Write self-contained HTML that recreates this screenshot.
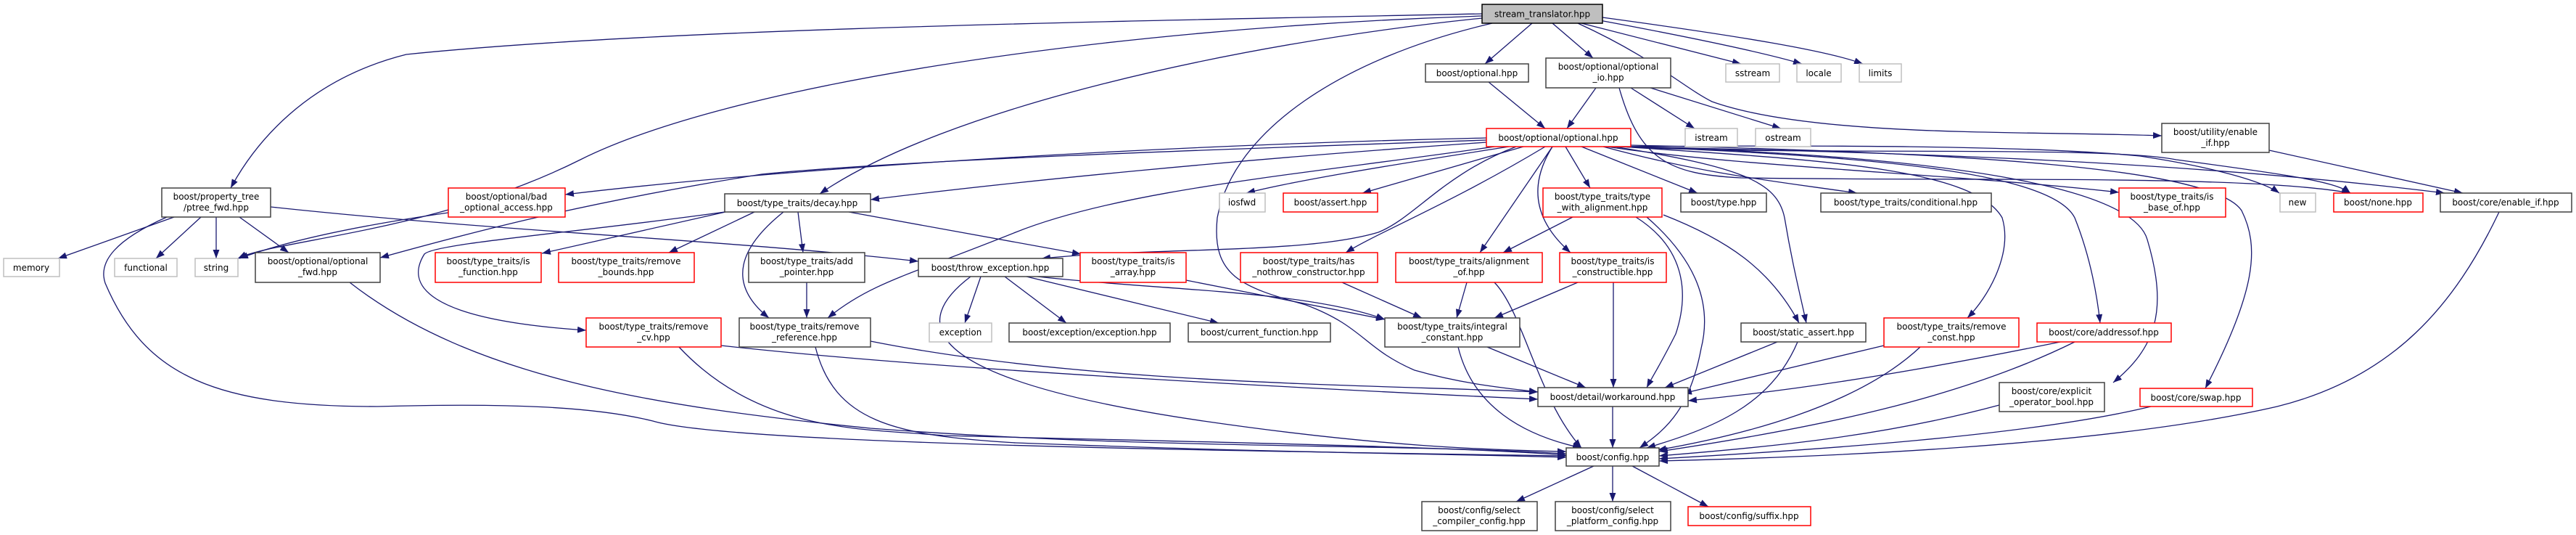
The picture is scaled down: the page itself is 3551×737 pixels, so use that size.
<!DOCTYPE html>
<html><head><meta charset="utf-8"><style>
html,body{margin:0;padding:0;background:#fff;}
svg{display:block;}
text{font-family:"DejaVu Sans","Liberation Sans",sans-serif;font-size:12px;fill:#000;text-anchor:middle;}
.e{fill:none;stroke:#191970;stroke-width:1.3;marker-end:url(#a);}
.b{fill:#fff;stroke:#404040;stroke-width:1.5;}
.r{fill:#fff;stroke:#ff0000;stroke-width:1.5;}
.g{fill:#fff;stroke:#bfbfbf;stroke-width:1.5;}
</style></head><body>
<svg width="3551" height="737" viewBox="0 0 3551 737" xmlns="http://www.w3.org/2000/svg">
<defs><marker id="a" markerUnits="userSpaceOnUse" markerWidth="12" markerHeight="9" refX="12" refY="4.5" orient="auto"><path d="M0,0 L12,4.5 L0,9 z" fill="#191970"/></marker></defs>
<g>
<path class="e" d="M2043,19 C1500,30 900,40 560,75 C420,110 350,200 318,259"/>
<path class="e" d="M2043,22 C1500,40 1000,120 800,220 C600,320 380,330 328,356"/>
<path class="e" d="M2043,25 C1700,60 1300,150 1130,267"/>
<path class="e" d="M2112,32 L2047,88"/>
<path class="e" d="M2140,32 L2196,80"/>
<path class="e" d="M2180,32 L2400,88"/>
<path class="e" d="M2205,28 C2350,55 2440,75 2484,88"/>
<path class="e" d="M2209,24 C2400,50 2520,70 2568,88"/>
<path class="e" d="M2175,32 C2280,80 2320,120 2360,140 C2500,190 2800,180 2980,187"/>
<path class="e" d="M2057,32 C1850,80 1700,180 1678,300 C1670,380 1710,395 1800,420 C1880,450 1880,480 1950,510 C2020,530 2080,535 2120,540"/>
<path class="e" d="M2049,190 C1600,200 1100,230 779,268"/>
<path class="e" d="M2049,193 C1700,205 1250,220 1050,240 C800,280 650,320 524,355"/>
<path class="e" d="M2049,196 C1700,220 1400,250 1200,275"/>
<path class="e" d="M2090,202 C1990,240 1950,300 1900,320 C1800,350 1600,340 1436,356"/>
<path class="e" d="M2060,202 C1800,240 1550,260 1400,320 C1250,380 1200,390 1141,438"/>
<path class="e" d="M2080,202 C1900,230 1780,250 1718,266"/>
<path class="e" d="M2100,202 L1878,266"/>
<path class="e" d="M2130,202 C2000,280 1900,320 1855,348"/>
<path class="e" d="M2140,202 L2040,348"/>
<path class="e" d="M2140,202 C2110,250 2110,300 2165,348"/>
<path class="e" d="M2158,202 L2192,259"/>
<path class="e" d="M2180,202 L2340,266"/>
<path class="e" d="M2210,202 C2350,240 2450,250 2560,266"/>
<path class="e" d="M2215,202 C2400,230 2700,240 2921,265"/>
<path class="e" d="M2220,202 C2500,200 2800,200 2950,215 C3050,230 3120,250 3142,266"/>
<path class="e" d="M2230,202 C2500,215 2900,200 3000,220 C3150,240 3220,250 3240,266"/>
<path class="e" d="M2240,202 C2600,210 3000,220 3370,266"/>
<path class="e" d="M2225,202 C2400,230 2450,250 2460,300 C2470,360 2480,400 2490,445"/>
<path class="e" d="M2235,202 C2500,220 2720,230 2760,300 C2775,350 2740,410 2712,438"/>
<path class="e" d="M2240,202 C2600,215 2830,240 2860,300 C2880,350 2890,400 2895,445"/>
<path class="e" d="M2245,202 C2700,215 2940,260 2960,330 C2990,430 2970,480 2913,527"/>
<path class="e" d="M2248,200 C2700,210 3050,230 3090,290 C3115,340 3110,400 3040,535"/>
<path class="e" d="M240,299 L80,356"/>
<path class="e" d="M277,299 L215,356"/>
<path class="e" d="M298,299 L298,356"/>
<path class="e" d="M330,299 L398,348"/>
<path class="e" d="M373,285 C700,320 1000,330 1266,360"/>
<path class="e" d="M230,299 C160,330 135,360 145,390 C200,520 300,560 520,560 C700,555 820,560 900,580 C1000,610 1600,620 2159,628"/>
<path class="e" d="M482,389 C650,520 900,560 1200,590 C1600,620 1900,610 2159,625"/>
<path class="e" d="M618,293 C500,310 400,330 330,356"/>
<path class="e" d="M1000,292 L747,349"/>
<path class="e" d="M1040,292 L922,348"/>
<path class="e" d="M1100,292 L1107,348"/>
<path class="e" d="M1080,292 C1020,340 1000,390 1060,438"/>
<path class="e" d="M999,292 C800,320 600,335 585,350 C560,390 580,440 808,455"/>
<path class="e" d="M1170,292 L1490,350"/>
<path class="e" d="M1112,389 L1112,438"/>
<path class="e" d="M994,476 C1300,510 1800,535 2120,550"/>
<path class="e" d="M936,478 C1050,600 1200,590 1300,600 C1700,610 2000,615 2159,627"/>
<path class="e" d="M1200,470 C1500,530 1900,530 2120,540"/>
<path class="e" d="M1124,478 C1150,580 1230,600 1400,610 C1800,625 2000,625 2159,630"/>
<path class="e" d="M1352,381 L1330,445"/>
<path class="e" d="M1385,381 L1470,445"/>
<path class="e" d="M1415,381 L1680,445"/>
<path class="e" d="M1338,381 C1260,440 1250,520 1659,580 C1900,615 2050,620 2159,622"/>
<path class="e" d="M1430,381 C1600,400 1800,400 1909,440"/>
<path class="e" d="M1635,386 L1909,440"/>
<path class="e" d="M1850,389 L1960,438"/>
<path class="e" d="M2022,389 L2008,438"/>
<path class="e" d="M2060,389 C2100,430 2120,550 2180,617"/>
<path class="e" d="M2175,389 L2060,438"/>
<path class="e" d="M2224,389 L2224,534"/>
<path class="e" d="M2168,299 L2072,348"/>
<path class="e" d="M2293,296 C2380,330 2440,370 2480,445"/>
<path class="e" d="M2255,299 C2320,340 2330,400 2310,460 C2290,500 2280,515 2270,534"/>
<path class="e" d="M2270,299 C2340,360 2360,420 2345,480 C2330,560 2300,590 2260,617"/>
<path class="e" d="M2050,478 L2186,534"/>
<path class="e" d="M2010,478 C2030,560 2100,600 2180,617"/>
<path class="e" d="M2223,560 L2223,617"/>
<path class="e" d="M2450,471 L2295,534"/>
<path class="e" d="M2478,471 C2440,560 2360,590 2270,617"/>
<path class="e" d="M2597,476 L2320,542"/>
<path class="e" d="M2647,478 C2560,560 2400,600 2285,620"/>
<path class="e" d="M2840,471 C2600,520 2450,540 2327,552"/>
<path class="e" d="M2860,471 C2700,550 2500,590 2287,622"/>
<path class="e" d="M2756,558 C2600,600 2450,615 2287,628"/>
<path class="e" d="M2965,560 C2800,600 2500,620 2287,632"/>
<path class="e" d="M3445,292 C3384,420 3300,520 3139,560 C2900,615 2500,630 2287,635"/>
<path class="e" d="M3128,207 L3395,266"/>
<path class="e" d="M2200,121 L2160,177"/>
<path class="e" d="M2052,113 L2130,177"/>
<path class="e" d="M2248,121 L2336,177"/>
<path class="e" d="M2275,121 L2455,177"/>
<path class="e" d="M2232,121 C2260,220 2300,240 2400,245 C2700,250 3100,240 3240,266"/>
<path class="e" d="M2197,642 L2090,691"/>
<path class="e" d="M2223,642 L2223,691"/>
<path class="e" d="M2250,642 L2355,698"/>
</g>
<g>
<rect x="2043" y="6" width="166" height="26" fill="#bfbfbf" stroke="#000" stroke-width="1.5"/><text x="2126" y="23.5">stream_translator.hpp</text>
<rect class="b" x="1965" y="88" width="142" height="25"/><text x="2036" y="105">boost/optional.hpp</text>
<rect class="b" x="2131" y="80" width="172" height="41"/><text x="2217" y="96">boost/optional/optional</text><text x="2217" y="111">_io.hpp</text>
<rect class="r" x="2049" y="177" width="199" height="25"/><text x="2148" y="194">boost/optional/optional.hpp</text>
<rect class="g" x="2323" y="177" width="72" height="25"/><text x="2359" y="194">istream</text>
<rect class="g" x="2379" y="88" width="74" height="25"/><text x="2416" y="105">sstream</text>
<rect class="g" x="2477" y="88" width="61" height="25"/><text x="2507" y="105">locale</text>
<rect class="g" x="2563" y="88" width="58" height="25"/><text x="2592" y="105">limits</text>
<rect class="g" x="2420" y="177" width="76" height="25"/><text x="2458" y="194">ostream</text>
<rect class="b" x="2980" y="170" width="148" height="40"/><text x="3054" y="186">boost/utility/enable</text><text x="3054" y="201">_if.hpp</text>
<rect class="g" x="1681" y="266" width="63" height="26"/><text x="1712" y="283">iosfwd</text>
<rect class="r" x="1769" y="266" width="130" height="26"/><text x="1834" y="283">boost/assert.hpp</text>
<rect class="r" x="2127" y="259" width="164" height="40"/><text x="2209" y="275">boost/type_traits/type</text><text x="2209" y="290">_with_alignment.hpp</text>
<rect class="b" x="2317" y="266" width="118" height="26"/><text x="2376" y="283">boost/type.hpp</text>
<rect class="b" x="2510" y="266" width="235" height="26"/><text x="2627" y="283">boost/type_traits/conditional.hpp</text>
<rect class="r" x="2921" y="259" width="147" height="40"/><text x="2994" y="275">boost/type_traits/is</text><text x="2994" y="290">_base_of.hpp</text>
<rect class="g" x="3143" y="266" width="49" height="26"/><text x="3167" y="283">new</text>
<rect class="r" x="3217" y="266" width="123" height="26"/><text x="3278" y="283">boost/none.hpp</text>
<rect class="b" x="3364" y="266" width="181" height="26"/><text x="3454" y="283">boost/core/enable_if.hpp</text>
<rect class="b" x="223" y="259" width="150" height="40"/><text x="298" y="275">boost/property_tree</text><text x="298" y="290">/ptree_fwd.hpp</text>
<rect class="r" x="618" y="259" width="161" height="40"/><text x="698" y="275">boost/optional/bad</text><text x="698" y="290">_optional_access.hpp</text>
<rect class="b" x="999" y="267" width="201" height="25"/><text x="1099" y="284">boost/type_traits/decay.hpp</text>
<rect class="g" x="5" y="356" width="77" height="25"/><text x="43" y="373">memory</text>
<rect class="g" x="158" y="356" width="86" height="25"/><text x="201" y="373">functional</text>
<rect class="g" x="269" y="356" width="59" height="25"/><text x="298" y="373">string</text>
<rect class="b" x="352" y="348" width="172" height="41"/><text x="438" y="364">boost/optional/optional</text><text x="438" y="379">_fwd.hpp</text>
<rect class="r" x="600" y="348" width="146" height="41"/><text x="673" y="364">boost/type_traits/is</text><text x="673" y="379">_function.hpp</text>
<rect class="r" x="770" y="348" width="187" height="41"/><text x="863" y="364">boost/type_traits/remove</text><text x="863" y="379">_bounds.hpp</text>
<rect class="b" x="1032" y="348" width="160" height="41"/><text x="1112" y="364">boost/type_traits/add</text><text x="1112" y="379">_pointer.hpp</text>
<rect class="b" x="1266" y="356" width="199" height="25"/><text x="1365" y="373">boost/throw_exception.hpp</text>
<rect class="r" x="1489" y="348" width="146" height="41"/><text x="1562" y="364">boost/type_traits/is</text><text x="1562" y="379">_array.hpp</text>
<rect class="r" x="1710" y="348" width="189" height="41"/><text x="1804" y="364">boost/type_traits/has</text><text x="1804" y="379">_nothrow_constructor.hpp</text>
<rect class="r" x="1924" y="348" width="202" height="41"/><text x="2025" y="364">boost/type_traits/alignment</text><text x="2025" y="379">_of.hpp</text>
<rect class="r" x="2150" y="348" width="147" height="41"/><text x="2223" y="364">boost/type_traits/is</text><text x="2223" y="379">_constructible.hpp</text>
<rect class="r" x="808" y="438" width="186" height="40"/><text x="901" y="454">boost/type_traits/remove</text><text x="901" y="469">_cv.hpp</text>
<rect class="b" x="1019" y="438" width="181" height="40"/><text x="1109" y="454">boost/type_traits/remove</text><text x="1109" y="469">_reference.hpp</text>
<rect class="g" x="1281" y="445" width="86" height="26"/><text x="1324" y="462">exception</text>
<rect class="b" x="1391" y="445" width="222" height="26"/><text x="1502" y="462">boost/exception/exception.hpp</text>
<rect class="b" x="1638" y="445" width="196" height="26"/><text x="1736" y="462">boost/current_function.hpp</text>
<rect class="b" x="1909" y="438" width="186" height="40"/><text x="2002" y="454">boost/type_traits/integral</text><text x="2002" y="469">_constant.hpp</text>
<rect class="b" x="2400" y="445" width="172" height="26"/><text x="2486" y="462">boost/static_assert.hpp</text>
<rect class="r" x="2597" y="438" width="186" height="40"/><text x="2690" y="454">boost/type_traits/remove</text><text x="2690" y="469">_const.hpp</text>
<rect class="r" x="2808" y="445" width="185" height="26"/><text x="2900" y="462">boost/core/addressof.hpp</text>
<rect class="b" x="2120" y="534" width="207" height="26"/><text x="2223" y="551">boost/detail/workaround.hpp</text>
<rect class="b" x="2756" y="527" width="145" height="40"/><text x="2828" y="543">boost/core/explicit</text><text x="2828" y="558">_operator_bool.hpp</text>
<rect class="r" x="2950" y="535" width="155" height="25"/><text x="3027" y="552">boost/core/swap.hpp</text>
<rect class="b" x="2159" y="617" width="128" height="25"/><text x="2223" y="634">boost/config.hpp</text>
<rect class="b" x="1960" y="691" width="159" height="40"/><text x="2039" y="707">boost/config/select</text><text x="2039" y="722">_compiler_config.hpp</text>
<rect class="b" x="2144" y="691" width="159" height="40"/><text x="2223" y="707">boost/config/select</text><text x="2223" y="722">_platform_config.hpp</text>
<rect class="r" x="2327" y="698" width="169" height="26"/><text x="2411" y="715">boost/config/suffix.hpp</text>
</g>
</svg>
</body></html>
